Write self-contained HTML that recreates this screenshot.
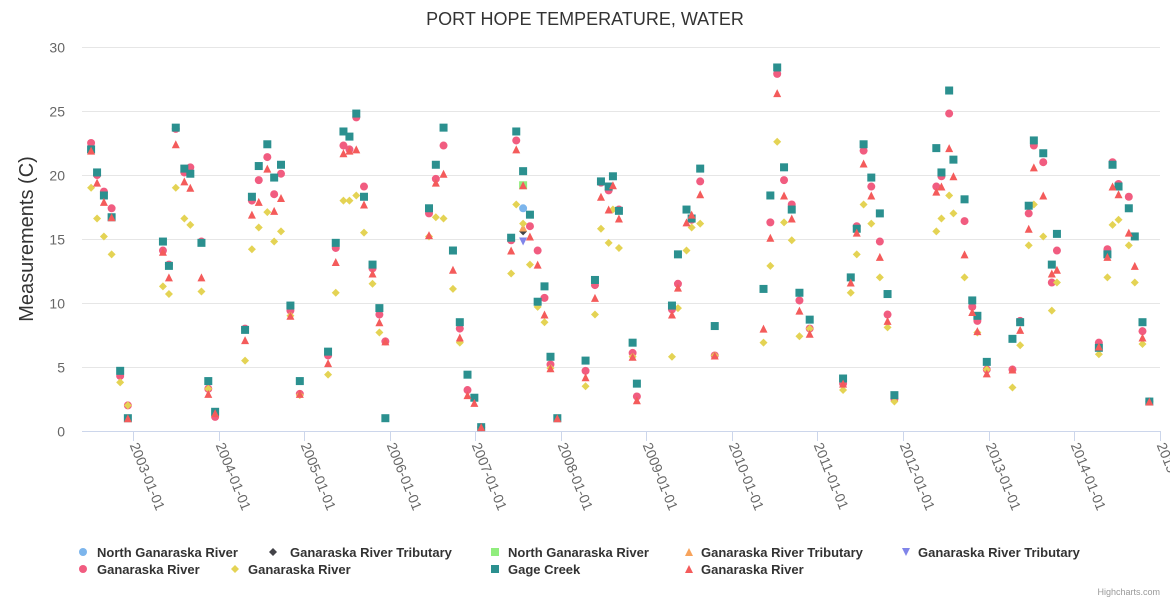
<!DOCTYPE html>
<html><head><meta charset="utf-8"><style>
body{margin:0;background:#fff;font-family:"Liberation Sans",Arial,sans-serif}
svg{display:block}
</style></head><body>
<svg id="chart" width="1170" height="600" xmlns="http://www.w3.org/2000/svg" font-family="Liberation Sans, Arial, sans-serif">
<rect width="1170" height="600" fill="#fff"/>
<text x="585" y="25" text-anchor="middle" font-size="18" fill="#333">PORT HOPE TEMPERATURE, WATER</text>
<text transform="translate(33,239) rotate(-90)" text-anchor="middle" font-size="20" fill="#333">Measurements (C)</text>
<g id="grid"></g><g id="xaxis"></g><g id="marks"></g><g id="legend"></g>
<text x="1160" y="595" text-anchor="end" font-size="9" fill="#999">Highcharts.com</text>
</svg>
<script>
const dates=[2002.51,2002.58,2002.66,2002.75,2002.85,2002.94,2003.35,2003.42,2003.50,2003.60,2003.67,2003.80,2003.88,2003.96,2004.31,2004.39,2004.47,2004.57,2004.65,2004.73,2004.84,2004.95,2005.28,2005.37,2005.46,2005.53,2005.61,2005.70,2005.80,2005.88,2005.95,2006.46,2006.54,2006.63,2006.74,2006.82,2006.91,2006.99,2007.07,2007.42,2007.48,2007.56,2007.64,2007.73,2007.81,2007.88,2007.96,2008.29,2008.40,2008.47,2008.56,2008.61,2008.68,2008.84,2008.89,2009.30,2009.37,2009.47,2009.53,2009.63,2009.80,2010.37,2010.45,2010.53,2010.61,2010.70,2010.79,2010.91,2011.30,2011.39,2011.46,2011.54,2011.63,2011.73,2011.82,2011.90,2012.39,2012.45,2012.54,2012.59,2012.72,2012.81,2012.87,2012.98,2013.28,2013.37,2013.47,2013.53,2013.64,2013.74,2013.80,2014.29,2014.39,2014.45,2014.52,2014.64,2014.71,2014.80,2014.88];
const ganaraskaCircle=[22.5,20.0,18.7,17.4,4.3,2.0,14.1,13.0,23.6,20.2,20.6,14.8,3.3,1.1,8.0,18.0,19.6,21.4,18.5,20.1,9.4,2.9,5.9,14.3,22.3,22.0,24.5,19.1,12.7,9.1,7.0,17.0,19.7,22.3,null,8.0,3.2,null,0.3,14.9,22.7,null,16.0,14.1,10.4,5.2,null,4.7,11.4,19.4,18.8,null,17.3,6.1,2.7,9.5,11.5,null,16.5,19.5,5.9,null,16.3,27.9,19.6,17.7,10.2,8.0,3.7,null,16.0,21.9,19.1,14.8,9.1,2.5,19.1,19.9,24.8,null,16.4,9.7,8.6,4.8,4.8,8.6,17.0,22.3,21.0,11.6,14.1,6.9,14.2,21.0,19.3,18.3,null,7.8,2.3];
const ganaraskaDiamond=[19.0,16.6,15.2,13.8,3.8,2.0,11.3,10.7,19.0,16.6,16.1,10.9,3.3,null,5.5,14.2,15.9,17.1,14.8,15.6,9.0,2.8,4.4,10.8,18.0,18.0,18.4,15.5,11.5,7.7,null,15.2,16.7,16.6,11.1,6.9,null,null,null,12.3,17.7,16.2,13.0,9.7,8.5,4.9,null,3.5,9.1,15.8,14.7,17.3,14.3,5.8,null,5.8,9.6,14.1,15.9,16.2,5.9,6.9,12.9,22.6,16.3,14.9,7.4,8.0,3.2,10.8,13.8,17.7,16.2,12.0,8.1,2.3,15.6,16.6,18.4,17.0,12.0,null,7.7,4.8,3.4,6.7,14.5,17.7,15.2,9.4,11.6,6.0,12.0,16.1,16.5,14.5,11.6,6.8,null];
const gageCreek=[22.0,20.2,18.4,16.7,4.7,1.0,14.8,12.9,23.7,20.5,20.1,14.7,3.9,1.5,7.9,18.3,20.7,22.4,19.8,20.8,9.8,3.9,6.2,14.7,23.4,23.0,24.8,18.3,13.0,9.6,1.0,17.4,20.8,23.7,14.1,8.5,4.4,2.6,0.3,15.1,23.4,20.3,16.9,10.1,11.3,5.8,1.0,5.5,11.8,19.5,19.1,19.9,17.2,6.9,3.7,9.8,13.8,17.3,16.6,20.5,8.2,11.1,18.4,28.4,20.6,17.3,10.8,8.7,4.1,12.0,15.8,22.4,19.8,17.0,10.7,2.8,22.1,20.2,26.6,21.2,18.1,10.2,9.0,5.4,7.2,8.5,17.6,22.7,21.7,13.0,15.4,6.5,13.8,20.8,19.1,17.4,15.2,8.5,2.3];
const ganaraskaTriangle=[21.9,19.4,17.9,16.7,null,1.0,14.0,12.0,22.4,19.5,19.0,12.0,2.9,1.4,7.1,16.9,17.9,20.5,17.2,18.2,9.0,2.9,5.3,13.2,21.7,21.9,22.0,17.7,12.3,8.5,7.0,15.3,19.4,20.1,12.6,7.3,2.8,2.2,0.3,14.1,22.0,19.2,15.2,13.0,9.1,4.9,1.0,4.2,10.4,18.3,17.3,19.2,16.6,5.8,2.4,9.1,11.2,16.3,16.9,18.5,5.9,8.0,15.1,26.4,18.4,16.6,9.4,7.6,3.7,11.6,15.5,20.9,18.4,13.6,8.6,null,18.7,19.1,22.1,19.9,13.8,9.3,7.8,4.5,4.8,7.9,15.8,20.6,18.4,12.3,12.6,6.6,13.6,19.1,18.5,15.5,12.9,7.3,2.3];
const specialDate=[2007.56];
const northCircle=[17.4];
const tribDiamond=[15.6];
const northSquare=[19.2];
const tribTriangle=[15.9];
const tribDown=[14.8];
const yTicks=[0,5,10,15,20,25,30];
const xTicks=[2003,2004,2005,2006,2007,2008,2009,2010,2011,2012,2013,2014,2015];
const xTickLabels=["2003-01-01","2004-01-01","2005-01-01","2006-01-01","2007-01-01","2008-01-01","2009-01-01","2010-01-01","2011-01-01","2012-01-01","2013-01-01","2014-01-01","2015-01-01"];

const NS="http://www.w3.org/2000/svg";
const L=82,R=1160,T=47,B=431;
function xs(v){return 133+(v-2003)*85.55;}
function ys(v){return B-(v/30)*(B-T);}
function mk(tag,attrs,parent){const e=document.createElementNS(NS,tag);for(const k in attrs)e.setAttribute(k,attrs[k]);parent.appendChild(e);return e;}
const grid=document.getElementById('grid'),xa=document.getElementById('xaxis'),marks=document.getElementById('marks'),leg=document.getElementById('legend');
yTicks.forEach(t=>{
  const y=Math.round(ys(t))+0.5;
  const gl=mk('line',{x1:L,x2:R,y1:y,y2:y,stroke:'#e6e6e6','stroke-width':1},grid);
  
  
  const tl=mk('text',{x:65,y:y+5,'text-anchor':'end','font-size':14,fill:'#666'},grid);
  tl.textContent=t;
  
  
});
const ax=mk('line',{x1:L,x2:R,y1:B+0.5,y2:B+0.5,stroke:'#ccd6eb','stroke-width':1},xa);


xTicks.forEach((t,i)=>{
  const x=Math.round(xs(t))+0.5;
  const tk=mk('line',{x1:x,x2:x,y1:B,y2:B+10,stroke:'#ccd6eb'},xa);
  
  
  const lb=mk('text',{x:x-4,y:B+14,'font-size':14,fill:'#666',transform:`rotate(68 ${x-4} ${B+14})`},xa);
  lb.textContent=xTickLabels[i];
  
  
});
function shape(kind,cx,cy,color,parent){
  let e;
  if(kind==='circle')e=mk('circle',{cx,cy,r:4,fill:color},parent);
  else if(kind==='square')e=mk('rect',{x:cx-4,y:cy-4,width:8,height:8,fill:color},parent);
  else if(kind==='diamond')e=mk('path',{d:`M${cx} ${cy-4}L${cx+4} ${cy}L${cx} ${cy+4}L${cx-4} ${cy}Z`,fill:color},parent);
  else if(kind==='triangle')e=mk('path',{d:`M${cx} ${cy-4}L${cx+4} ${cy+4}L${cx-4} ${cy+4}Z`,fill:color},parent);
  else e=mk('path',{d:`M${cx-4} ${cy-4}L${cx+4} ${cy-4}L${cx} ${cy+4}Z`,fill:color},parent);
  return e;
}
const series=[
 {name:'North Ganaraska River',kind:'circle',color:'#7cb5ec',d:specialDate,v:northCircle},
 {name:'Ganaraska River Tributary',kind:'diamond',color:'#434348',d:specialDate,v:tribDiamond},
 {name:'North Ganaraska River',kind:'square',color:'#90ed7d',d:specialDate,v:northSquare},
 {name:'Ganaraska River Tributary',kind:'triangle',color:'#f7a35c',d:specialDate,v:tribTriangle},
 {name:'Ganaraska River Tributary',kind:'down',color:'#8085e9',d:specialDate,v:tribDown},
 {name:'Ganaraska River',kind:'circle',color:'#f15c80',d:dates,v:ganaraskaCircle},
 {name:'Ganaraska River',kind:'diamond',color:'#e4d354',d:dates,v:ganaraskaDiamond},
 {name:'Gage Creek',kind:'square',color:'#2b908f',d:dates,v:gageCreek},
 {name:'Ganaraska River',kind:'triangle',color:'#f45b5b',d:dates,v:ganaraskaTriangle}
];
series.forEach((s,si)=>{
  const g=mk('g',{},marks);
  
  
  s.v.forEach((v,i)=>{
    if(v===null||v===undefined)return;
    const p=shape(s.kind,xs(s.d[i]),ys(v),s.color,g);
    
    
  });
});
const legPos=[[83,97,556],[273,290,556],[495,508,556],[689,701,556],[906,918,556],[83,97,573],[235,248,573],[495,508,573],[689,701,573]];
const legOrder=[0,1,2,3,4,5,6,7,8];
legOrder.forEach(i=>{
  const s=series[i],p=legPos[i];
  const g=mk('g',{},leg);
  
  
  shape(s.kind,p[0],p[2]-4,s.color,g);
  const t=mk('text',{x:p[1],y:p[2]+1,'font-size':13,'font-weight':'bold',fill:'#333'},g);
  t.textContent=s.name;
});
</script>
</body></html>
